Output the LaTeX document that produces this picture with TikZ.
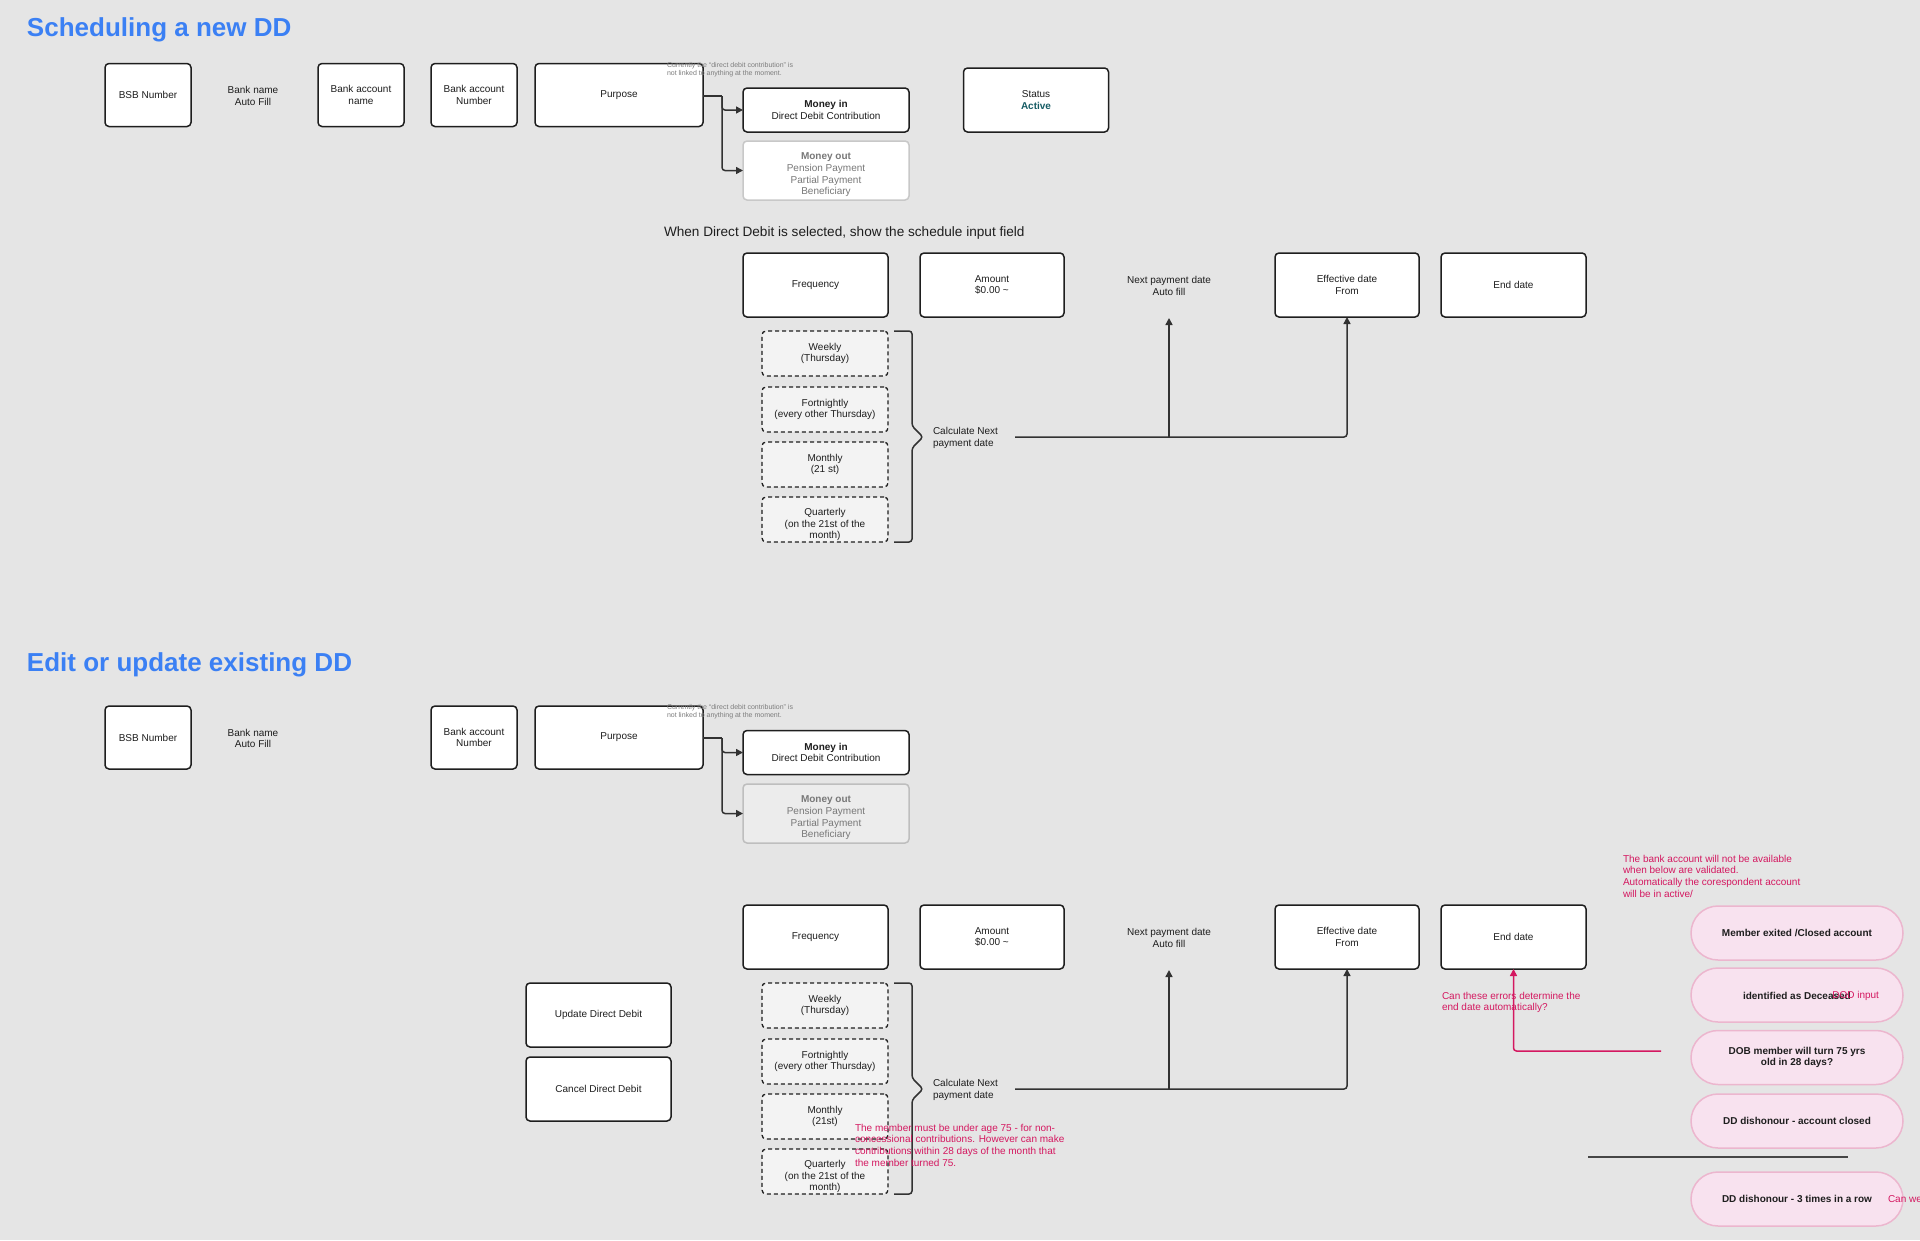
\documentclass[tikz,border=0pt]{standalone}
\usepackage{fontspec}
\setmainfont{Liberation Sans}
\usetikzlibrary{arrows.meta}
\definecolor{bg}{RGB}{229,229,229}
\definecolor{ink}{RGB}{30,30,30}
\definecolor{ttl}{RGB}{59,128,244}
\definecolor{teal1}{RGB}{22,92,100}
\definecolor{red1}{RGB}{212,24,96}
\definecolor{pinkfill}{RGB}{248,226,239}
\definecolor{pinkline}{RGB}{236,182,206}
\definecolor{grtxt}{RGB}{120,120,120}
\definecolor{grline}{RGB}{200,200,200}
\definecolor{grline2}{RGB}{190,190,190}
\definecolor{grfill}{RGB}{236,236,236}
\definecolor{dashfill}{RGB}{243,243,243}
\definecolor{connc}{RGB}{50,50,50}
\definecolor{notec}{RGB}{125,125,125}
\definecolor{hlc}{RGB}{70,70,70}
\begin{document}
\begin{tikzpicture}[x=1pt,y=-1pt,
  every node/.style={font=\fontsize{10}{11.7}\selectfont, text=ink, inner sep=0pt, outer sep=0pt},
  inbox/.style={draw=ink, line width=1.5pt, rounded corners=4pt, fill=white, align=center},
  sz/.style 2 args={minimum width=#1pt, minimum height=#2pt},
  grbox/.style={draw=grline, line width=1.5pt, rounded corners=4pt, fill=white, align=center, text=grtxt},
  grbox2/.style={draw=grline2, line width=1.5pt, rounded corners=4pt, fill=grfill, align=center, text=grtxt},
  grtext/.style={align=center, text=grtxt},
  dbox/.style={draw=ink, line width=1.3pt, dash pattern=on 4pt off 3pt, rounded corners=4pt, fill=dashfill, align=center, minimum width=126pt, minimum height=45pt},
  plain/.style={align=center},
  ttlstyle/.style={anchor=base west, font=\bfseries\fontsize{26}{30}\selectfont, text=ttl},
  notestyle/.style={anchor=north west, align=left, text=notec, font=\fontsize{7}{8.5}\selectfont},
  rednote/.style={anchor=north west, align=left, text=red1},
  conn/.style={draw=connc, line width=1.5pt, rounded corners=3pt, -{Triangle[length=7pt,width=7pt]}},
  lineonly/.style={draw=connc, line width=1.5pt, rounded corners=3pt},
  bracestyle/.style={draw=connc, line width=1.5pt, rounded corners=3pt},
  pill/.style={draw=pinkline, line width=1.5pt, fill=pinkfill, rounded corners=27pt, minimum width=212pt, minimum height=54pt, align=center, font=\bfseries\fontsize{10}{11.7}\selectfont},
]
\useasboundingbox[fill=bg] (0,0) rectangle (1920,1240);

% ================= Section 1 =================
\node[ttlstyle] (t1) at (27,36) {Scheduling a new DD};

\node[inbox, sz={86}{63}] (bsb1) at (148,95) {BSB Number};
\node[plain] (bn1) at (253,96) {Bank name\\Auto Fill};
\node[inbox, sz={86}{63}] (acn1) at (361,95) {Bank account\\name};
\node[inbox, sz={86}{63}] (acnum1) at (474,95) {Bank account\\Number};
\node[inbox, sz={168}{63}] (pur1) at (619,95) {Purpose};
\node[notestyle] (note1) at (667,62) {Currently the “direct debit contribution” is\\not linked to anything at the moment.};

\node[inbox, sz={166}{44}] (mi1) at (826,110) {\textbf{Money in}\\Direct Debit Contribution};
\node[grbox, sz={166}{59}] (mo1) at (826,170.5) {};
\node[grtext] (mo1t) at (826,175) {\textbf{Money out}\\Pension Payment\\Partial Payment\\Beneficiary};
\node[inbox, sz={145}{64}] (st1) at (1036,100) {Status\\\textbf{\textcolor{teal1}{Active}}};

\coordinate (j1) at (722,96);
\draw[lineonly] (pur1.east |- j1) -- (j1);
\draw[conn] (j1) |- (mi1.west);
\draw[conn] (j1) |- (mo1.west);

\node[anchor=west, font=\fontsize{13.6}{16}\selectfont] (cap1) at (664,233) {When Direct Debit is selected, show the schedule input field};

\node[inbox, sz={145}{64}] (fr1) at (815.5,285) {Frequency};
\node[inbox, sz={144}{64}] (am1) at (992,285) {Amount\\\$0.00 \textasciitilde};
\node[plain] (np1) at (1169,286) {Next payment date\\Auto fill};
\node[inbox, sz={144}{64}] (ef1) at (1347,285) {Effective date\\From};
\node[inbox, sz={145}{64}] (en1) at (1513.5,285) {End date};

\node[dbox] (w1) at (825,353.5) {Weekly\\(Thursday)};
\node[dbox] (f1) at (825,409.5) {Fortnightly\\(every other Thursday)};
\node[dbox] (m1) at (825,464.5) {Monthly\\(21 st)};
\node[dbox] (q1) at (825,519.5) {};
\node[plain] (q1t) at (825,524.5) {Quarterly\\(on the 21st of the\\month)};

\draw[bracestyle] (894,331) -- (912,331) -- (912,426) -- (923,437) -- (912,448) -- (912,542) -- (894,542);
\node[anchor=west, align=left] (calc1) at (933,438) {Calculate Next\\payment date};

\coordinate (c1s) at (1015,437);
\coordinate (c1m) at (1169,437);
\coordinate (np1b) at (1169,318);
\draw[conn] (c1s) -| (ef1.south);
\draw[conn] (c1m) -- (np1b);

% ================= Section 2 =================
\node[ttlstyle] (t2) at (27,671) {Edit or update existing DD};

\node[inbox, sz={86}{63}] (bsb2) at (148,737.5) {BSB Number};
\node[plain] (bn2) at (253,738.5) {Bank name\\Auto Fill};
\node[inbox, sz={86}{63}] (acnum2) at (474,737.5) {Bank account\\Number};
\node[inbox, sz={168}{63}] (pur2) at (619,737.5) {Purpose};
\node[notestyle] (note2) at (667,704) {Currently the “direct debit contribution” is\\not linked to anything at the moment.};

\node[inbox, sz={166}{44}] (mi2) at (826,752.5) {\textbf{Money in}\\Direct Debit Contribution};
\node[grbox2, sz={166}{59}] (mo2) at (826,813.5) {};
\node[grtext] (mo2t) at (826,818) {\textbf{Money out}\\Pension Payment\\Partial Payment\\Beneficiary};

\coordinate (j2) at (722,738);
\draw[lineonly] (pur2.east |- j2) -- (j2);
\draw[conn] (j2) |- (mi2.west);
\draw[conn] (j2) |- (mo2.west);

\node[inbox, sz={145}{64}] (fr2) at (815.5,937) {Frequency};
\node[inbox, sz={144}{64}] (am2) at (992,937) {Amount\\\$0.00 \textasciitilde};
\node[plain] (np2) at (1169,938) {Next payment date\\Auto fill};
\node[inbox, sz={144}{64}] (ef2) at (1347,937) {Effective date\\From};
\node[inbox, sz={145}{64}] (en2) at (1513.5,937) {End date};

\node[inbox, sz={145}{64}] (upd) at (598.5,1015) {Update Direct Debit};
\node[inbox, sz={145}{64}] (cnl) at (598.5,1089) {Cancel Direct Debit};

\node[dbox] (w2) at (825,1005.5) {Weekly\\(Thursday)};
\node[dbox] (f2) at (825,1061.5) {Fortnightly\\(every other Thursday)};
\node[dbox] (m2) at (825,1116.5) {Monthly\\(21st)};
\node[dbox] (q2) at (825,1171.5) {};
\node[plain] (q2t) at (825,1176.5) {Quarterly\\(on the 21st of the\\month)};

\draw[bracestyle] (894,983) -- (912,983) -- (912,1078) -- (923,1089) -- (912,1100) -- (912,1194) -- (894,1194);
\node[anchor=west, align=left] (calc2) at (933,1090) {Calculate Next\\payment date};

\coordinate (c2s) at (1015,1089);
\coordinate (c2m) at (1169,1089);
\coordinate (np2b) at (1169,970);
\draw[conn] (c2s) -| (ef2.south);
\draw[conn] (c2m) -- (np2b);

\node[rednote] (rn1) at (855,1124) {The member must be under age 75 - for non-\\concessional contributions. However can make\\contributions within 28 days of the month that\\the member turned 75.};

\node[rednote] (rn2) at (1442,992) {Can these errors determine the\\end date automatically?};
\node[rednote] (rn3) at (1623,855) {The bank account will not be available\\when below are validated.\\Automatically the corespondent account\\will be in active/};

\node[pill] (p1) at (1797,933) {Member exited /Closed account};
\node[pill] (p2) at (1797,995) {};
\node[anchor=west, font=\bfseries\fontsize{10}{11.7}\selectfont] (p2a) at (1743,996) {identified as Deceased};
\node[anchor=east, text=red1] (p2b) at (1879,996) {DOD input};
\node[pill] (p3) at (1797,1057.5) {DOB member will turn 75 yrs\\old in 28 days?};
\node[pill] (p4) at (1797,1121) {DD dishonour - account closed};
\node[pill] (p5) at (1797,1199) {DD dishonour - 3 times in a row};
\node[anchor=west, text=red1] (cw) at (1888,1199) {Can we};

\coordinate (ra) at (1661,1051);
\draw[conn, draw=red1] (ra) -| (en2.south);

\coordinate (hl1) at (1588,1157);
\coordinate (hl2) at (1848,1157);
\draw[line width=1.5pt, draw=hlc] (hl1) -- (hl2);
\end{tikzpicture}
\end{document}
